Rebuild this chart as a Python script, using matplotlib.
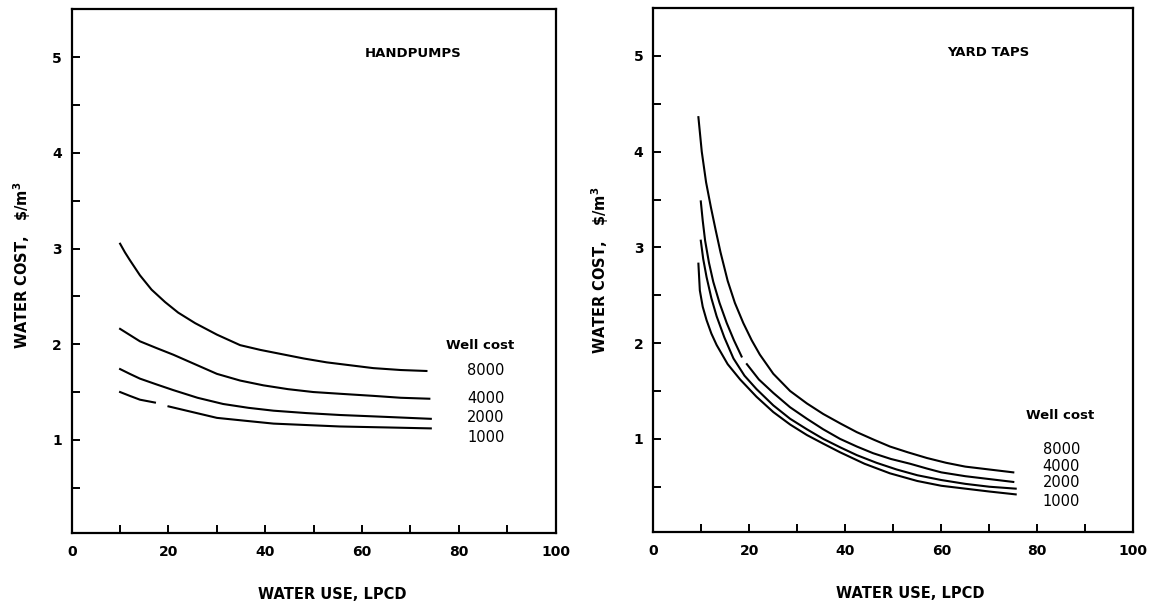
import numpy as np
import matplotlib.pyplot as plt
from matplotlib.ticker import MultipleLocator

# water use (LPCD) vs water cost ($/m3) for four well costs
well_costs = ["8000", "4000", "2000", "1000"]

# handpumps
hp_x_8000 = [10, 11, 12, 14.1, 16.5, 19.3, 22, 25.5, 30, 34.8, 39, 43, 48, 52.7, 57.5, 62.3, 68, 73.3]
hp_y_8000 = [3.05, 2.96, 2.88, 2.72, 2.57, 2.44, 2.33, 2.22, 2.10, 1.99, 1.94, 1.90, 1.85, 1.81, 1.78, 1.75, 1.73, 1.72]
hp_x_4000 = [10, 14.1, 17.5, 21, 25.5, 30, 34.8, 39.6, 44.7, 49.9, 56, 62.3, 68, 73.9]
hp_y_4000 = [2.16, 2.03, 1.96, 1.89, 1.79, 1.69, 1.62, 1.57, 1.53, 1.50, 1.48, 1.46, 1.44, 1.43]
hp_x_2000 = [10, 12, 14.1, 17.5, 21, 26, 31.3, 36.5, 41.7, 48.5, 55.4, 65, 74.2]
hp_y_2000 = [1.74, 1.69, 1.64, 1.58, 1.52, 1.44, 1.375, 1.335, 1.305, 1.28, 1.26, 1.24, 1.22]
hp_x_1000 = [10, 12, 14.1, 17.2, np.nan, 20, 25, 30, 35.8, 41.7, 48.5, 55.4, 65, 74.2]
hp_y_1000 = [1.50, 1.46, 1.42, 1.39, np.nan, 1.35, 1.29, 1.23, 1.20, 1.17, 1.155, 1.14, 1.13, 1.12]

# yard taps
yt_x_8000 = [9.4, 10.1, 11, 12, 13, 14, 15.5, 17, 18.75, 20.5, 22.2, 25, 28.5, 32,
             35.4, 39, 42.4, 46, 49.3, 53, 57, 61, 65, 70, 75]
yt_y_8000 = [4.36, 4.0, 3.68, 3.42, 3.18, 2.95, 2.65, 2.42, 2.21, 2.03, 1.88, 1.68, 1.50, 1.37,
             1.26, 1.16, 1.07, 0.99, 0.92, 0.86, 0.80, 0.75, 0.71, 0.68, 0.65]
yt_x_4000 = [9.9, 10.3, 10.8, 11.6, 12.5, 13.8, 15.3, 16.8, 18.4, np.nan, 19.5, 22, 25,
             28.5, 32, 35.4, 38.9, 42.4, 45.8, 49.5, 53.5, 57, 60, 65, 70, 75]
yt_y_4000 = [3.48, 3.28, 3.07, 2.84, 2.64, 2.42, 2.21, 2.03, 1.86, np.nan, 1.78, 1.62, 1.48,
             1.33, 1.21, 1.10, 1.00, 0.92, 0.85, 0.79, 0.74, 0.69, 0.65, 0.61, 0.58, 0.55]
yt_x_2000 = [9.9, 10.4, 11.1, 12.1, 13.2, 14.8, 16.7, 19, 21.5, 25, 28.5, 32, 35.4, 39,
             42.4, 46.5, 50.7, 55, 60, 65, 70, 75.5]
yt_y_2000 = [3.07, 2.88, 2.69, 2.47, 2.28, 2.06, 1.84, 1.66, 1.52, 1.35, 1.21, 1.10, 1.00, 0.91,
             0.83, 0.75, 0.68, 0.62, 0.57, 0.53, 0.50, 0.48]
yt_x_1000 = [9.4, 9.7, 10.3, 11.1, 12.1, 13.2, 15.5, 18.1, 21.5, 25, 28.5, 32, 35.4, 38.9,
             44, 49.3, 55, 60, 65, 70, 75.5]
yt_y_1000 = [2.83, 2.55, 2.38, 2.24, 2.10, 1.98, 1.78, 1.62, 1.44, 1.28, 1.15, 1.04, 0.95, 0.86,
             0.74, 0.64, 0.56, 0.51, 0.48, 0.45, 0.42]

hp_curves = [(hp_x_8000, hp_y_8000), (hp_x_4000, hp_y_4000),
             (hp_x_2000, hp_y_2000), (hp_x_1000, hp_y_1000)]
yt_curves = [(yt_x_8000, yt_y_8000), (yt_x_4000, yt_y_4000),
             (yt_x_2000, yt_y_2000), (yt_x_1000, yt_y_1000)]

plt.rcParams['font.family'] = 'DejaVu Sans'

fig = plt.figure(figsize=(11.62, 6.03), dpi=100)
ax1 = fig.add_axes([0.0617, 0.1166, 0.4165, 0.868])
ax2 = fig.add_axes([0.5622, 0.1182, 0.4131, 0.8685])


def style_axes(ax):
    ax.set_xlim(0, 100)
    ax.set_ylim(0.03, 5.5)
    ax.xaxis.set_major_locator(MultipleLocator(20))
    ax.xaxis.set_minor_locator(MultipleLocator(10))
    ax.yaxis.set_major_locator(MultipleLocator(1))
    ax.yaxis.set_minor_locator(MultipleLocator(0.5))
    ax.set_yticks([1, 2, 3, 4, 5])
    ax.tick_params(which='both', direction='in', length=6, width=1.4,
                   top=False, right=False)
    ax.tick_params(axis='x', which='major', pad=9)
    ax.tick_params(axis='y', which='major', pad=7)
    for lbl in ax.get_xticklabels() + ax.get_yticklabels():
        lbl.set_fontsize(10)
        lbl.set_fontweight('bold')
    for sp in ax.spines.values():
        sp.set_linewidth(1.6)
    ax.set_xlabel("WATER USE, LPCD", fontsize=10.5, fontweight='bold')
    ax.set_ylabel("WATER COST,   \\$/m$^{\\mathbf{3}}$", fontsize=10.5,
                  fontweight='bold')


style_axes(ax1)
style_axes(ax2)
ax1.xaxis.set_label_coords(0.538, -0.103)
ax2.xaxis.set_label_coords(0.535, -0.103)
ax1.yaxis.set_label_coords(-0.08, 0.51)
ax2.yaxis.set_label_coords(-0.088, 0.50)

for x, y in hp_curves:
    ax1.plot(x, y, color='black', lw=1.5)
for x, y in yt_curves:
    ax2.plot(x, y, color='black', lw=1.5)

ax1.text(70.5, 5.04, "HANDPUMPS", ha='center', va='center',
         fontsize=9.5, fontweight='bold')
ax2.text(69.7, 5.04, "YARD TAPS", ha='center', va='center',
         fontsize=9.5, fontweight='bold')

# well cost labels next to curve ends
hp_lab_y = [1.72, 1.43, 1.23, 1.03]
ax1.text(84.4, 1.99, "Well cost", ha='center', va='center',
         fontsize=9.5, fontweight='bold')
for lab, yv in zip(well_costs, hp_lab_y):
    ax1.text(85.6, yv, lab, ha='center', va='center', fontsize=10.5)

yt_lab_y = [0.89, 0.71, 0.54, 0.35]
ax2.text(84.7, 1.24, "Well cost", ha='center', va='center',
         fontsize=9.5, fontweight='bold')
for lab, yv in zip(well_costs, yt_lab_y):
    ax2.text(85.0, yv, lab, ha='center', va='center', fontsize=10.5)

fig.savefig("out.png", dpi=100)
